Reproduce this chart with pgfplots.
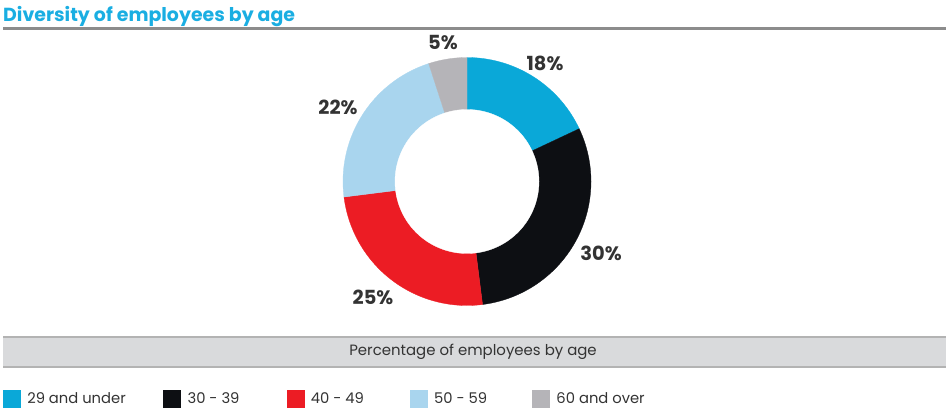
\documentclass[border=0pt]{standalone}
\usepackage{pgfplots}
\pgfplotsset{compat=1.18}
\usepackage{fontspec}
\setmainfont{Poppins}
\definecolor{cA}{HTML}{0AA8D8}
\definecolor{cB}{HTML}{0D0F13}
\definecolor{cC}{HTML}{EC1C24}
\definecolor{cD}{HTML}{A9D5EE}
\definecolor{cE}{HTML}{B5B4B8}
\definecolor{titlec}{HTML}{1AAEE2}
\definecolor{txt}{HTML}{333333}
\definecolor{rulec}{HTML}{8C8C8C}
\definecolor{boxf}{HTML}{D9DADC}
\definecolor{boxl}{HTML}{B3B3B3}
\begin{document}
\begin{tikzpicture}
\begin{axis}[
  scale only axis, width=946bp, height=408bp,
  xmin=0, xmax=946, ymin=0, ymax=408, y dir=reverse,
  hide axis, clip=false,
  legend columns=5,
  legend style={at={(axis cs:3,398.5)}, anchor=west, draw=none, fill=none,
    inner sep=0pt, outer sep=0pt, font=\fontsize{14.8}{17}\selectfont, text=txt,
    nodes={inner sep=0pt},
    /tikz/every odd column/.append style={column sep=7bp}},
  legend image code/.code={\fill[#1] (0bp,-8.5bp) rectangle (17bp,8.5bp);},
]
% shares (%): 18, 30, 25, 22, 5 ; clockwise from 90 deg, 1% = 3.6 deg
\addplot[fill=cA, draw=cA, line width=0.3pt, domain=25.2:90, samples=80, variable=\t]
  ({467+124*cos(t)},{181.5-124*sin(t)}) -- (axis cs:467,181.5) -- cycle;
\addlegendentry{\makebox[136bp][l]{29 and under}}
\addplot[fill=cB, draw=cB, line width=0.3pt, domain=-82.8:25.2, samples=120, variable=\t]
  ({467+124*cos(t)},{181.5-124*sin(t)}) -- (axis cs:467,181.5) -- cycle;
\addlegendentry{\makebox[99bp][l]{30 - 39}}
\addplot[fill=cC, draw=cC, line width=0.3pt, domain=-172.8:-82.8, samples=100, variable=\t]
  ({467+124*cos(t)},{181.5-124*sin(t)}) -- (axis cs:467,181.5) -- cycle;
\addlegendentry{\makebox[99bp][l]{40 - 49}}
\addplot[fill=cD, draw=cD, line width=0.3pt, domain=-252:-172.8, samples=90, variable=\t]
  ({467+124*cos(t)},{181.5-124*sin(t)}) -- (axis cs:467,181.5) -- cycle;
\addlegendentry{\makebox[98bp][l]{50 - 59}}
\addplot[fill=cE, draw=cE, line width=0.3pt, domain=-270:-252, samples=30, variable=\t]
  ({467+124*cos(t)},{181.5-124*sin(t)}) -- (axis cs:467,181.5) -- cycle;
\addlegendentry{60 and over}
% hole
\addplot[fill=white, draw=white, line width=0.3pt, domain=0:360, samples=160, variable=\t, forget plot]
  ({467+72*cos(t)},{181.5-72*sin(t)}) -- cycle;

% labels
\begin{scope}[every node/.style={text=txt, font=\bfseries\fontsize{19.5}{22}\selectfont, inner sep=0pt}]
\node at (axis cs:545,63) {18\%};
\node at (axis cs:601,253) {30\%};
\node at (axis cs:373,297) {25\%};
\node at (axis cs:338,107) {22\%};
\node at (axis cs:443,43) {5\%};
\end{scope}

% title
\node[anchor=base west, inner sep=0pt, text=titlec, font=\bfseries\fontsize{19}{22}\selectfont] at (axis cs:3,21.5) {Diversity of employees by age};
\draw[rulec, line width=3bp] (axis cs:3,28.5) -- (axis cs:946,28.5);

% table header box
\fill[boxf] (axis cs:3,337) rectangle (axis cs:946,367);
\draw[boxl, line width=2bp] (axis cs:3,337) -- (axis cs:946,337);
\draw[boxl, line width=2bp] (axis cs:3,367) -- (axis cs:946,367);
\node[text=txt, font=\fontsize{15}{17}\selectfont, inner sep=0pt] at (axis cs:473,352) {Percentage of employees by age};
\end{axis}
\pgfresetboundingbox
\path (0,0) rectangle (946bp,408bp);
\end{tikzpicture}
\end{document}
